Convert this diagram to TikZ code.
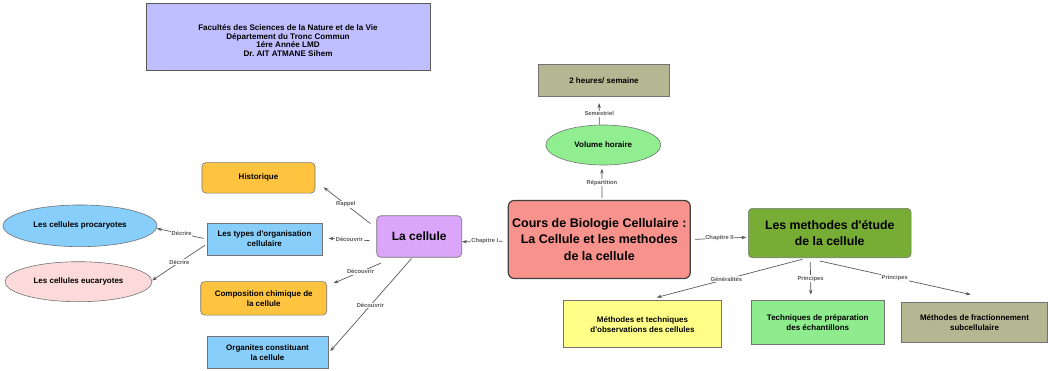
\documentclass[tikz,border=0pt]{standalone}
\usepackage{fontspec}
\setmainfont{Liberation Sans}
\usetikzlibrary{arrows.meta,shapes.geometric}

\definecolor{headblue}{HTML}{BFBFFF}
\definecolor{khaki}{HTML}{B5B792}
\definecolor{lgreen}{HTML}{90EE90}
\definecolor{salmon}{HTML}{F8928C}
\definecolor{lilac}{HTML}{DBA6FA}
\definecolor{leaf}{HTML}{77AD34}
\definecolor{amber}{HTML}{FFC43F}
\definecolor{sky}{HTML}{87CEFA}
\definecolor{blush}{HTML}{FCDADA}
\definecolor{lemon}{HTML}{FFFF88}
\definecolor{mint}{HTML}{8EEB8E}

\begin{document}
\begin{tikzpicture}[x=1pt,y=-1pt,
   >={Stealth[length=5pt,width=3.5pt]},
   every edge/.append style={draw=black!65, line width=0.7pt},
   box/.style={draw=black!55, line width=0.6pt, inner sep=0pt, align=center,
               font=\bfseries\fontsize{8}{9.8}\selectfont},
   rbox/.style={box, rounded corners=4pt},
   oval/.style={box, ellipse},
   big/.style={font=\bfseries\fontsize{12.5}{16.5}\selectfont},
   lab/.style={fill=white, inner sep=0.8pt, text=black!65,
               font=\bfseries\fontsize{5.8}{7}\selectfont}]
   \useasboundingbox (0,0) rectangle (1048,370);

   \node[box, fill=headblue, draw=black!65, minimum width=284pt, minimum height=67pt,
         font=\bfseries\fontsize{8.1}{8.4}\selectfont] (head) at (288,36.5)
        {\rule{0pt}{14pt}Facultés des Sciences de la Nature et de la Vie\\Département du Tronc Commun\\1ére Année LMD\\Dr.\ AIT ATMANE Sihem};
   \node[box, fill=khaki, minimum width=131pt, minimum height=32pt] (hrs) at (604,80.5) {2 heures/ semaine};
   \node[oval, fill=lgreen, minimum width=115pt, minimum height=40pt] (vol) at (603.3,145) {Volume horaire};
   \node[rbox, big, fill=salmon, draw=black!75, line width=1.2pt, rounded corners=6pt,
         minimum width=182pt, minimum height=78pt] (cours) at (599.3,239.5)
        {Cours de Biologie Cellulaire :\\La Cellule et les methodes\\de la cellule};
   \node[rbox, fill=lilac, minimum width=85pt, minimum height=41.5pt,
         font=\bfseries\fontsize{12}{14}\selectfont] (cel) at (419.2,236.5) {La cellule};
   \node[rbox, fill=leaf, minimum width=162.7pt, minimum height=49.4pt,
         font=\bfseries\fontsize{12.3}{16}\selectfont] (meth) at (829.7,233) {Les methodes d\textquotesingle étude\\de la cellule};

   \node[rbox, fill=amber, minimum width=113pt, minimum height=30.5pt] (hist) at (258.5,177.8) {Historique};
   \node[box, fill=sky, minimum width=115pt, minimum height=32pt] (types) at (264.5,239) {Les types d\textquotesingle organisation\\cellulaire};
   \node[rbox, fill=amber, minimum width=126pt, minimum height=33.5pt] (comp) at (263.7,298.3) {Composition chimique de\\la cellule};
   \node[box, fill=sky, minimum width=121pt, minimum height=31.5pt] (org) at (267.5,352.3) {Organites constituant\\la cellule};
   \node[oval, fill=sky, minimum width=154pt, minimum height=41.7pt] (proc) at (80,225.8) {Les cellules procaryotes};
   \node[oval, fill=blush, minimum width=147pt, minimum height=40pt] (euc) at (78.5,281.7) {Les cellules eucaryotes};

   \node[box, fill=lemon, minimum width=158.4pt, minimum height=47pt] (obs) at (642.5,324.2) {Méthodes et techniques\\d\textquotesingle observations des cellules};
   \node[box, fill=mint, minimum width=132.3pt, minimum height=44.3pt] (prep) at (817.8,322.2) {Techniques de préparation\\des échantillons};
   \node[box, fill=khaki, minimum width=145.6pt, minimum height=40.4pt] (frac) at (974.5,322.2) {Méthodes de fractionnement\\subcellulaire};

   \path[->]
    (cours.181.4) edge [shorten <=5pt] node[lab] {Chapitre I} (cel.-7)
    (cours.0.75)  edge [shorten <=4.3pt, shorten >=1.6pt] node[lab] {Chapitre II} (meth.183.7)
    (cours.86)    edge [shorten <=1.7pt, shorten >=3.3pt] node[lab] {Répartition} (vol.266.3)
    (vol.101)     edge [shorten >=6.3pt] node[lab, pos=.4] {Semestriel} (hrs.253.8)
    (cel.169.5)   edge [shorten <=7.6pt, shorten >=10.5pt] node[lab] {Rappel} (hist.-3.5)
    (cel.186.2)   edge [shorten <=6.7pt, shorten >=6.3pt] node[lab] {Découvrir} (types.1.1)
    (cel.220.7)   edge [shorten <=14.4pt, shorten >=7.1pt] node[lab] {Découvrir} (comp.11.9)
    (cel.252.4)   edge [shorten <=1.3pt, shorten >=3pt] node[lab] {Découvrir} (org.-1.6)
    (types.180)   edge [shorten <=3pt] node[lab] {Décrire} (proc.-2)
    (types.185.4) edge [shorten <=2.4pt] node[lab] {Décrire} (euc.1.3)
    (meth.228.2)  edge [shorten <=5pt, shorten >=11.7pt] node[lab] {Généralités} (obs.83.7)
    (meth.232.9)  edge [shorten <=4pt, shorten >=5pt] node[lab] {Principes} (prep.107)
    (meth.227.3)  edge [shorten <=13.5pt, shorten >=32.8pt] node[lab, pos=.45] {Principes} (frac.36.1);
\end{tikzpicture}
\end{document}
